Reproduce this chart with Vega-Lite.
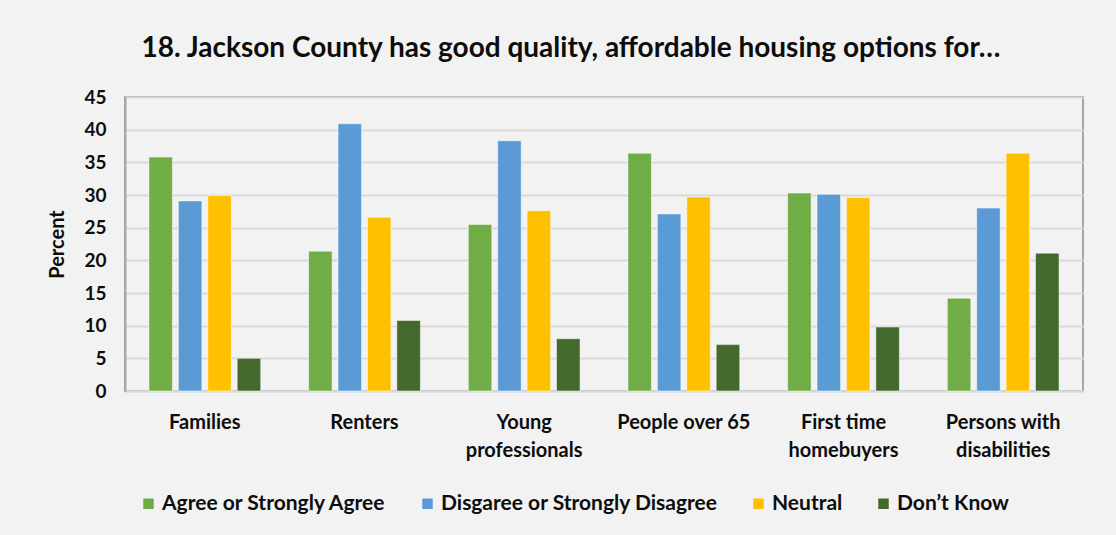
{
  "$schema": "https://vega.github.io/schema/vega-lite/v6.json",
  "width": 958,
  "height": 294,
  "autosize": {"type": "none"},
  "padding": {"left": 125, "top": 97, "right": 33, "bottom": 144},
  "background": "#f2f2f2",
  "title": {
    "text": "18. Jackson County has good quality, affordable housing options for…",
    "anchor": "middle",
    "dx": -33,
    "offset": 25,
    "font": "Lato",
    "fontSize": 28,
    "fontWeight": "bold",
    "color": "#0d0d0d"
  },
  "config": {
    "font": "Lato",
    "view": {"stroke": "#a6a6a6", "strokeWidth": 2},
    "axis": {"labelFont": "Lato", "titleFont": "Lato"}
  },
  "data": {
    "values": [
      {"group": "Families", "response": "Agree or Strongly Agree", "percent": 35.8},
      {"group": "Families", "response": "Disgaree or Strongly Disagree", "percent": 29.1},
      {"group": "Families", "response": "Neutral", "percent": 29.9},
      {"group": "Families", "response": "Don’t Know", "percent": 5.0},
      {"group": "Renters", "response": "Agree or Strongly Agree", "percent": 21.4},
      {"group": "Renters", "response": "Disgaree or Strongly Disagree", "percent": 40.9},
      {"group": "Renters", "response": "Neutral", "percent": 26.6},
      {"group": "Renters", "response": "Don’t Know", "percent": 10.8},
      {"group": "Young professionals", "response": "Agree or Strongly Agree", "percent": 25.5},
      {"group": "Young professionals", "response": "Disgaree or Strongly Disagree", "percent": 38.3},
      {"group": "Young professionals", "response": "Neutral", "percent": 27.6},
      {"group": "Young professionals", "response": "Don’t Know", "percent": 8.0},
      {"group": "People over 65", "response": "Agree or Strongly Agree", "percent": 36.4},
      {"group": "People over 65", "response": "Disgaree or Strongly Disagree", "percent": 27.1},
      {"group": "People over 65", "response": "Neutral", "percent": 29.7},
      {"group": "People over 65", "response": "Don’t Know", "percent": 7.1},
      {"group": "First time homebuyers", "response": "Agree or Strongly Agree", "percent": 30.3},
      {"group": "First time homebuyers", "response": "Disgaree or Strongly Disagree", "percent": 30.1},
      {"group": "First time homebuyers", "response": "Neutral", "percent": 29.6},
      {"group": "First time homebuyers", "response": "Don’t Know", "percent": 9.8},
      {"group": "Persons with disabilities", "response": "Agree or Strongly Agree", "percent": 14.2},
      {"group": "Persons with disabilities", "response": "Disgaree or Strongly Disagree", "percent": 28.0},
      {"group": "Persons with disabilities", "response": "Neutral", "percent": 36.4},
      {"group": "Persons with disabilities", "response": "Don’t Know", "percent": 21.1}
    ]
  },
  "mark": {"type": "bar", "stroke": "#ffffff", "strokeOpacity": 0.5, "strokeWidth": 1},
  "encoding": {
    "x": {
      "field": "group",
      "type": "nominal",
      "sort": null,
      "scale": {"paddingInner": 0.3, "paddingOuter": 0.15},
      "axis": {
        "title": null,
        "labelAngle": 0,
        "labelFontSize": 20,
        "labelFontWeight": "bold",
        "labelColor": "#0d0d0d",
        "labelPadding": 21,
        "labelLineHeight": 28,
        "labelBaseline": "top",
        "ticks": false,
        "domainColor": "#d9d9d9",
        "domainWidth": 2,
        "labelExpr": "datum.label == 'Young professionals' ? ['Young', 'professionals'] : datum.label == 'First time homebuyers' ? ['First time', 'homebuyers'] : datum.label == 'Persons with disabilities' ? ['Persons with', 'disabilities'] : datum.label"
      }
    },
    "xOffset": {
      "field": "response",
      "type": "nominal",
      "sort": ["Agree or Strongly Agree", "Disgaree or Strongly Disagree", "Neutral", "Don’t Know"],
      "scale": {"paddingInner": 0.2, "paddingOuter": 0}
    },
    "y": {
      "field": "percent",
      "type": "quantitative",
      "scale": {"domain": [0, 45]},
      "axis": {
        "title": "Percent",
        "titleFontSize": 20,
        "titleFontWeight": "bold",
        "titleColor": "#0d0d0d",
        "titlePadding": 16,
        "values": [0, 5, 10, 15, 20, 25, 30, 35, 40, 45],
        "labelFontSize": 19,
        "labelFontWeight": "bold",
        "labelColor": "#0d0d0d",
        "labelPadding": 19,
        "ticks": false,
        "domainColor": "#a6a6a6",
        "domainWidth": 2,
        "gridColor": "#d9d9d9",
        "gridWidth": 2
      }
    },
    "color": {
      "field": "response",
      "type": "nominal",
      "sort": ["Agree or Strongly Agree", "Disgaree or Strongly Disagree", "Neutral", "Don’t Know"],
      "scale": {
        "domain": ["Agree or Strongly Agree", "Disgaree or Strongly Disagree", "Neutral", "Don’t Know"],
        "range": ["#70ad47", "#5b9bd5", "#ffc000", "#44692c"]
      },
      "legend": {
        "title": null,
        "orient": "none",
        "legendX": 13,
        "legendY": 396,
        "direction": "horizontal",
        "columns": 4,
        "symbolType": "square",
        "symbolSize": 110,
        "symbolStrokeWidth": 0,
        "labelFontSize": 21,
        "labelFontWeight": "bold",
        "labelColor": "#0d0d0d",
        "labelOffset": 3,
        "columnPadding": 30,
        "labelLimit": 400
      }
    }
  }
}
